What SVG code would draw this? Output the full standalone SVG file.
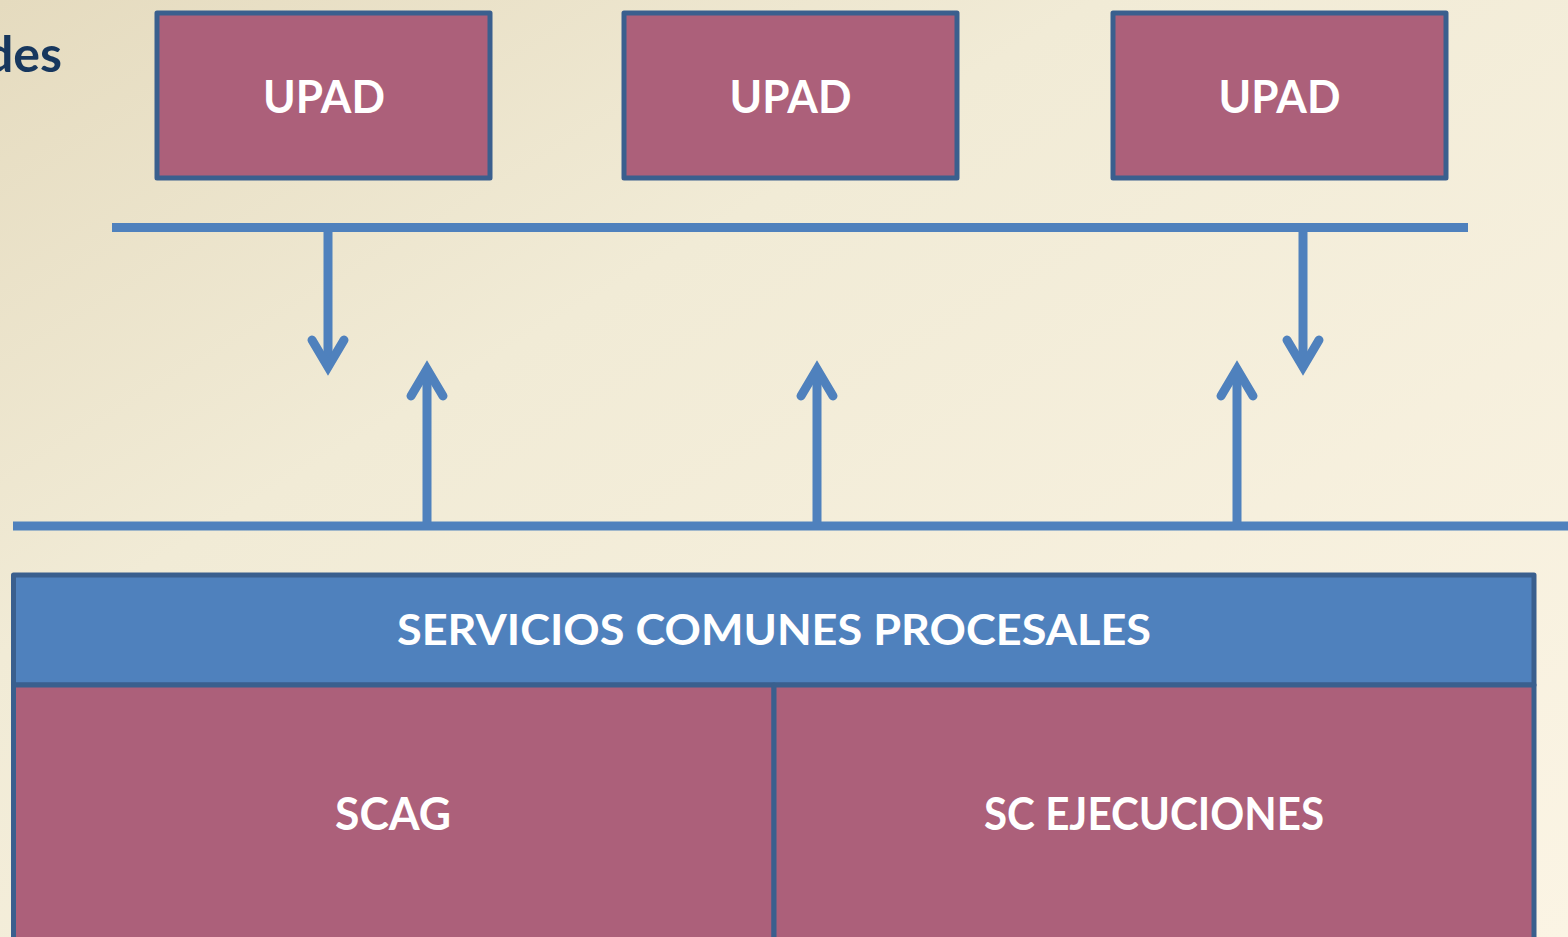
<svg xmlns="http://www.w3.org/2000/svg" width="1568" height="937" viewBox="0 0 1568 937">
  <defs>
    <linearGradient id="bg" x1="0" y1="0" x2="1" y2="1">
      <stop offset="0" stop-color="#E5DBBF"/>
      <stop offset="0.35" stop-color="#F1EBD6"/>
      <stop offset="1" stop-color="#FBF4E4"/>
    </linearGradient>
    <marker id="ah" markerUnits="userSpaceOnUse" viewBox="-40 -25 50 50" markerWidth="50" markerHeight="50" refX="0" refY="0" orient="auto" overflow="visible">
      <path d="M -27 -16 L 0 0 L -27 16" fill="none" stroke="#4F81BD" stroke-width="9" stroke-linecap="round" stroke-linejoin="miter"/>
    </marker>
    <style>
      .box { fill: #AC607A; stroke: #3A5F8E; stroke-width: 5; stroke-linejoin: round; }
      .band { fill: #4F81BD; stroke: #3A5F8E; stroke-width: 5; stroke-linejoin: round; }
      .lbl { font-family: Lato, "Open Sans", "Liberation Sans", sans-serif; font-weight: bold; fill: #FFFFFF; text-anchor: middle; }
      .bus { stroke: #4F81BD; stroke-width: 9; fill: none; }
      .arr { stroke: #4F81BD; stroke-width: 9; fill: none; marker-end: url(#ah); }
      .title { font-family: Lato, "Open Sans", "Liberation Sans", sans-serif; font-weight: bold; fill: #17375E; }
    </style>
  </defs>

  <rect x="0" y="0" width="1568" height="937" fill="url(#bg)"/>

  <text class="title" x="62" y="72" font-size="50" text-anchor="end">des</text>

  <g id="upad1">
    <rect class="box" x="157" y="13" width="333" height="165"/>
    <text class="lbl" x="324" y="113" font-size="46" textLength="122" lengthAdjust="spacingAndGlyphs">UPAD</text>
  </g>
  <g id="upad2">
    <rect class="box" x="624" y="13" width="333" height="165"/>
    <text class="lbl" x="790.5" y="113" font-size="46" textLength="122" lengthAdjust="spacingAndGlyphs">UPAD</text>
  </g>
  <g id="upad3">
    <rect class="box" x="1113" y="13" width="333" height="165"/>
    <text class="lbl" x="1279.5" y="113" font-size="46" textLength="122" lengthAdjust="spacingAndGlyphs">UPAD</text>
  </g>

  <g id="connectors">
    <line class="bus" x1="112" y1="227.5" x2="1468" y2="227.5"/>
    <line class="bus" x1="13" y1="526" x2="1568" y2="526"/>
    <line class="arr" x1="328" y1="231" x2="328" y2="367"/>
    <line class="arr" x1="1303" y1="231" x2="1303" y2="367"/>
    <line class="arr" x1="427" y1="523" x2="427" y2="369"/>
    <line class="arr" x1="817" y1="523" x2="817" y2="369"/>
    <line class="arr" x1="1237" y1="523" x2="1237" y2="369"/>
  </g>

  <g id="servicios">
    <rect class="band" x="13.5" y="575" width="1520.5" height="110"/>
    <text class="lbl" x="774" y="645" font-size="42" textLength="754" lengthAdjust="spacingAndGlyphs">SERVICIOS COMUNES PROCESALES</text>
  </g>
  <g id="scag">
    <rect class="box" x="13.5" y="685" width="760.5" height="256"/>
    <text class="lbl" x="393" y="830" font-size="46" textLength="116" lengthAdjust="spacingAndGlyphs">SCAG</text>
  </g>
  <g id="sc-ejecuciones">
    <rect class="box" x="774" y="685" width="760" height="256"/>
    <text class="lbl" x="1154" y="830" font-size="46" textLength="340" lengthAdjust="spacingAndGlyphs">SC EJECUCIONES</text>
  </g>
</svg>
